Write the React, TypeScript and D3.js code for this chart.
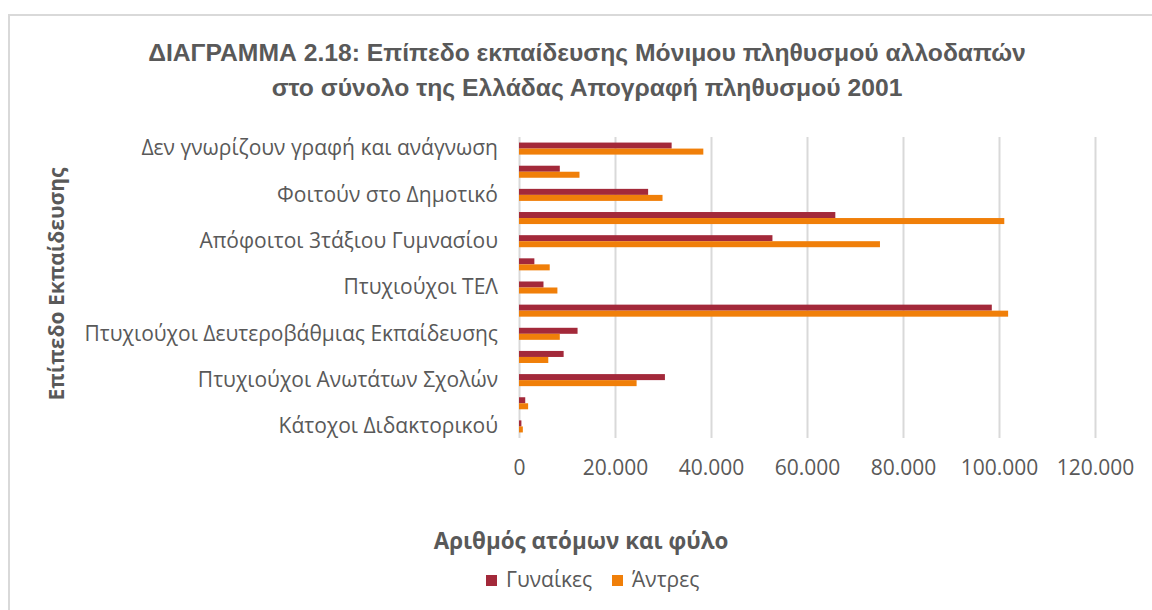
import React, { useRef, useEffect } from "react";
import * as d3 from "d3";

const categories = [
  "Δεν γνωρίζουν γραφή και ανάγνωση",
  "Δεν τελείωσαν το Δημοτικό",
  "Φοιτούν στο Δημοτικό",
  "Απόφοιτοι Δημοτικού",
  "Απόφοιτοι 3τάξιου Γυμνασίου",
  "Πτυχιούχοι Επαγγελματικών Σχολών",
  "Πτυχιούχοι ΤΕΛ",
  "Απόφοιτοι Λυκείου",
  "Πτυχιούχοι Δευτεροβάθμιας Εκπαίδευσης",
  "Πτυχιούχοι ΤΕΙ",
  "Πτυχιούχοι Ανωτάτων Σχολών",
  "Κάτοχοι Μεταπτυχιακού",
  "Κάτοχοι Διδακτορικού",
];

const women = [31800, 8500, 26900, 65900, 52800, 3200, 5100, 98500, 12200, 9300, 30400, 1300, 500];
const men = [38400, 12600, 29900, 101100, 75200, 6400, 8000, 101900, 8500, 6100, 24500, 1900, 800];

const seriesNames = ["Γυναίκες", "Άντρες"];
const seriesColors = ["#A3293A", "#F07F09"];
const xTicks = [0, 20000, 40000, 60000, 80000, 100000, 120000];

const titleLines = [
  "ΔΙΑΓΡΑΜΜΑ 2.18: Επίπεδο εκπαίδευσης Μόνιμου πληθυσμού αλλοδαπών",
  "στο σύνολο της Ελλάδας Απογραφή πληθυσμού 2001",
];

export default function App() {
  const svgRef = useRef<SVGSVGElement | null>(null);

  useEffect(() => {
    const width = 1152;
    const height = 610;
    const margin = { top: 137, right: 57, bottom: 172, left: 519 };
    const innerHeight = height - margin.top - margin.bottom;

    const svg = d3.select(svgRef.current);
    svg.selectAll("*").remove();
    svg.attr("width", width).attr("height", height);

    const labelFont = "'Open Sans', 'Noto Sans', sans-serif";
    const titleFont = "'Liberation Sans', 'Open Sans', sans-serif";

    // frame
    svg
      .append("rect")
      .attr("x", 9)
      .attr("y", 15)
      .attr("width", 1200)
      .attr("height", 700)
      .attr("fill", "#fff")
      .attr("stroke", "#D9D9D9")
      .attr("stroke-width", 2);

    // title
    svg
      .append("g")
      .selectAll("text")
      .data(titleLines)
      .enter()
      .append("text")
      .attr("x", 587)
      .attr("y", (d, i) => 61 + i * 35)
      .attr("text-anchor", "middle")
      .attr("font-family", titleFont)
      .attr("font-weight", "bold")
      .attr("font-size", 24.7)
      .attr("fill", "#595959")
      .text((d) => d);

    const chart = svg
      .append("g")
      .attr("transform", `translate(${margin.left},${margin.top})`);

    const xScale = d3.scaleLinear().domain([0, 120000]).range([0, 576]);

    const y0 = d3
      .scaleBand()
      .domain(categories)
      .range([0, innerHeight])
      .paddingInner(0.48)
      .paddingOuter(0.24);

    const y1 = d3
      .scaleBand()
      .domain(seriesNames)
      .range([0, y0.bandwidth()]);

    // grid
    chart
      .append("g")
      .call(
        d3
          .axisBottom(xScale)
          .tickValues(xTicks)
          .tickSize(innerHeight)
          .tickFormat(() => "")
      )
      .call((g) => g.select(".domain").remove())
      .call((g) =>
        g.selectAll("line").attr("stroke", "#D9D9D9").attr("stroke-width", 2)
      );

    // x tick labels
    chart
      .append("g")
      .attr("transform", `translate(0,${innerHeight})`)
      .call(
        d3
          .axisBottom(xScale)
          .tickValues(xTicks)
          .tickSize(0)
          .tickPadding(22)
          .tickFormat((d) => d3.format(",")(d as number).replace(/,/g, "."))
      )
      .call((g) => g.select(".domain").remove())
      .call((g) =>
        g
          .selectAll("text")
          .attr("fill", "#595959")
          .attr("font-family", labelFont)
          .attr("font-size", 21)
      );

    // y labels (every other one shown)
    chart
      .append("g")
      .call(
        d3
          .axisLeft(y0)
          .tickSize(0)
          .tickPadding(21)
          .tickFormat((d) => {
            const i = categories.indexOf(d as string);
            return i % 2 === 0 ? (d as string) : "";
          })
      )
      .call((g) => g.select(".domain").remove())
      .call((g) =>
        g
          .selectAll("text")
          .attr("fill", "#595959")
          .attr("font-family", labelFont)
          .attr("font-size", 21)
      );

    // bars
    const rows = categories.map((c, i) => ({ c, vals: [women[i], men[i]] }));
    chart
      .selectAll(".row")
      .data(rows)
      .enter()
      .append("g")
      .attr("transform", (d) => `translate(0,${y0(d.c)})`)
      .selectAll("rect")
      .data((d) => d.vals)
      .enter()
      .append("rect")
      .attr("x", 0)
      .attr("y", (d, i) => y1(seriesNames[i]) as number)
      .attr("width", (d) => xScale(d))
      .attr("height", y1.bandwidth())
      .attr("fill", (d, i) => seriesColors[i]);

    // y axis title
    svg
      .append("text")
      .attr("transform", `translate(64,284) rotate(-90)`)
      .attr("text-anchor", "middle")
      .attr("font-family", labelFont)
      .attr("font-weight", "bold")
      .attr("font-size", 21)
      .attr("fill", "#595959")
      .text("Επίπεδο Εκπαίδευσης");

    // x axis title
    svg
      .append("text")
      .attr("x", 581)
      .attr("y", 549)
      .attr("text-anchor", "middle")
      .attr("font-family", labelFont)
      .attr("font-weight", "bold")
      .attr("font-size", 22.4)
      .attr("fill", "#595959")
      .text("Αριθμός ατόμων και φύλο");

    // legend
    const legendX = [486, 612];
    const legend = svg
      .append("g")
      .selectAll("g")
      .data(seriesNames)
      .enter()
      .append("g")
      .attr("transform", (d, i) => `translate(${legendX[i]},575)`);
    legend
      .append("rect")
      .attr("width", 11)
      .attr("height", 11)
      .attr("fill", (d, i) => seriesColors[i]);
    legend
      .append("text")
      .attr("x", 20)
      .attr("y", 12)
      .attr("font-family", labelFont)
      .attr("font-size", 21)
      .attr("fill", "#595959")
      .text((d) => d);
  }, []);

  return (
    <div style={{ position: "fixed", left: 0, top: 0, width: 1152, height: 610 }}>
      <svg ref={svgRef}></svg>
    </div>
  );
}
